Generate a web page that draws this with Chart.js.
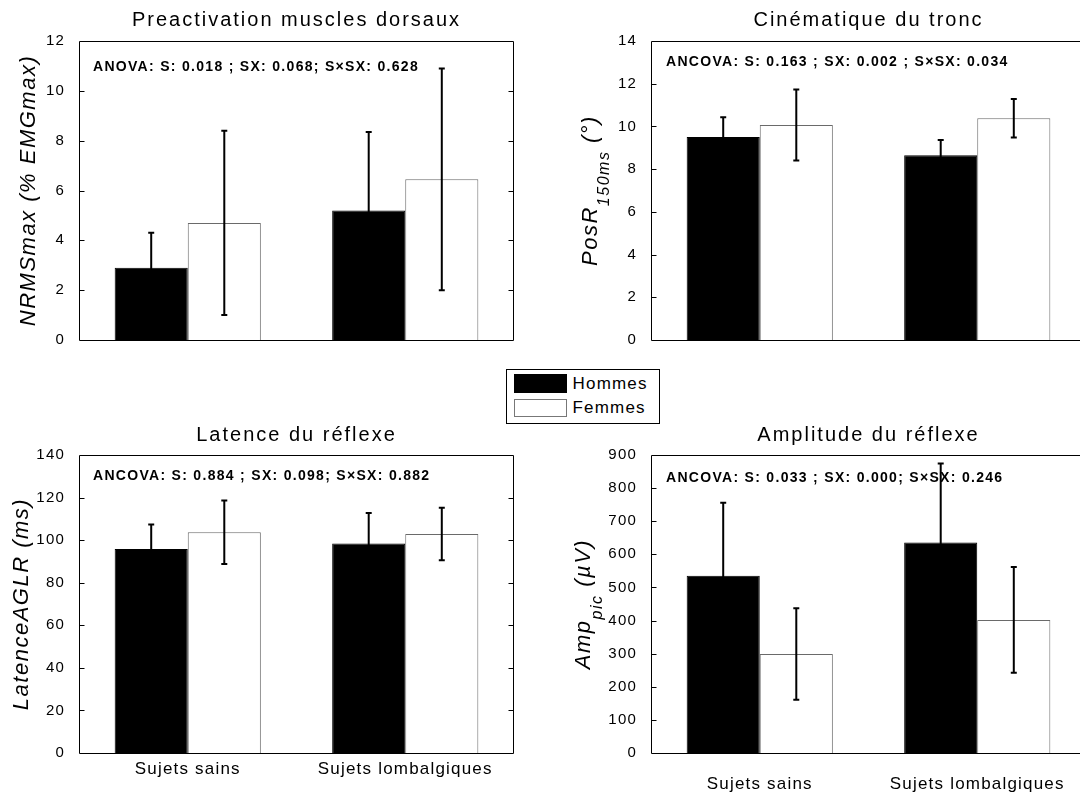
<!DOCTYPE html>
<html lang="fr">
<head>
  <meta charset="UTF-8">
  <title>Hommes / Femmes</title>
  <script src="https://cdn.jsdelivr.net/npm/chart.js"></script>
  <style>
    html, body {
      margin: 0;
      padding: 0;
      background: #fff;
    }
    body {
      width: 1080px;
      height: 794px;
      overflow: hidden;
      position: relative;
      font-family: 'Liberation Sans', Arial, sans-serif;
    }
    canvas {
      position: absolute;
    }
    .legend {
      position: absolute;
      left: 506px;
      top: 369px;
      width: 154px;
      height: 55px;
      box-sizing: border-box;
      border: 1.5px solid #000;
      background: #fff;
    }
    .legend .sw {
      position: absolute;
      left: 6.5px;
      width: 53px;
      box-sizing: border-box;
    }
    .legend .black { top: 3.5px; height: 19px; background: #000; }
    .legend .white { top: 28.5px; height: 18px; background: #fff; border: 1px solid #777; }
    .legend .txt {
      position: absolute;
      left: 65.5px;
      font-size: 17px;
      line-height: 20px;
      letter-spacing: 1.2px;
      color: #000;
    }
  </style>
</head>
<body>
  <canvas id="preact" width="540" height="360" style="left:0;top:0"></canvas>
  <canvas id="cinem" width="560" height="360" style="left:540px;top:0"></canvas>
  <canvas id="latence" width="540" height="380" style="left:0;top:414px"></canvas>
  <canvas id="amplitude" width="560" height="380" style="left:540px;top:414px"></canvas>

  <div class="legend">
    <span class="sw black"></span><span class="txt" style="top:3.5px">Hommes</span>
    <span class="sw white"></span><span class="txt" style="top:27.5px">Femmes</span>
  </div>

  <script>
    const FONT = "'Liberation Sans', Arial, sans-serif";

    const categories = ['Sujets sains', 'Sujets lombalgiques'];
    const seriesNames = ['Hommes', 'Femmes'];

    // Preactivation muscles dorsaux (NRMSmax, % EMGmax)
    const preactHommes = [2.9, 5.2];
    const preactHommesSd = [1.4, 3.15];
    const preactFemmes = [4.7, 6.45];
    const preactFemmesSd = [3.7, 4.45];

    // Cinematique du tronc (PosR 150ms, degres)
    const cinemHommes = [9.5, 8.65];
    const cinemHommesSd = [0.93, 0.72];
    const cinemFemmes = [10.07, 10.38];
    const cinemFemmesSd = [1.66, 0.9];

    // Latence du reflexe (ms)
    const latHommes = [95.8, 98.4];
    const latHommesSd = [11.6, 14.3];
    const latFemmes = [103.7, 102.9];
    const latFemmesSd = [14.9, 12.3];

    // Amplitude du reflexe (microvolts)
    const ampHommes = [535, 636];
    const ampHommesSd = [221, 238];
    const ampFemmes = [299, 402];
    const ampFemmesSd = [138, 160];

    // y axis ranges [max, step]
    const preactAxis = [12, 2];
    const cinemAxis = [14, 2];
    const latAxis = [140, 20];
    const ampAxis = [900, 100];

    const panels = [
      {
        canvas: 'preact', title: 'Preactivation muscles dorsaux',
        note: 'ANOVA: S: 0.018 ; SX: 0.068; S×SX: 0.628',
        yLabel: [['NRMSmax (% EMGmax)', false]],
        hommes: preactHommes, hommesSd: preactHommesSd, femmes: preactFemmes, femmesSd: preactFemmesSd,
        axis: preactAxis,
        axisW: 79, padRight: 26, axisH: 20, showX: false, xPad: 0,
        titleY: 20, noteDx: 14, noteDy: 26, yLabelX: 35
      },
      {
        canvas: 'cinem', title: 'Cinématique du tronc',
        note: 'ANCOVA: S: 0.163 ; SX: 0.002 ; S×SX: 0.034',
        yLabel: [['PosR', false], ['150ms', true], [' (°)', false]],
        hommes: cinemHommes, hommesSd: cinemHommesSd, femmes: cinemFemmes, femmesSd: cinemFemmesSd,
        axis: cinemAxis,
        axisW: 111, padRight: 14, axisH: 20, showX: false, xPad: 0,
        titleY: 20, noteDx: 15, noteDy: 21, yLabelX: 57
      },
      {
        canvas: 'latence', title: 'Latence du réflexe',
        note: 'ANCOVA: S: 0.884 ; SX: 0.098; S×SX: 0.882',
        yLabel: [['LatenceAGLR (ms)', false]],
        hommes: latHommes, hommesSd: latHommesSd, femmes: latFemmes, femmesSd: latFemmesSd,
        axis: latAxis,
        axisW: 79, padRight: 26, axisH: 41, showX: true, xPad: -2,
        titleY: 21, noteDx: 14, noteDy: 21, yLabelX: 28
      },
      {
        canvas: 'amplitude', title: 'Amplitude du réflexe',
        note: 'ANCOVA: S: 0.033 ; SX: 0.000; S×SX: 0.246',
        yLabel: [['Amp', false], ['pic', true], [' (µV)', false]],
        hommes: ampHommes, hommesSd: ampHommesSd, femmes: ampFemmes, femmesSd: ampFemmesSd,
        axis: ampAxis,
        axisW: 111, padRight: 14, axisH: 41, showX: true, xPad: 13,
        titleY: 21, noteDx: 15, noteDy: 23, yLabelX: 50
      }
    ];

    function drawYTitle(ctx, parts, x, cy) {
      const main = 'italic 22px ' + FONT;
      const sub = 'italic 16px ' + FONT;
      ctx.save();
      ctx.letterSpacing = '1.5px';
      let total = 0;
      parts.forEach(([text, isSub]) => {
        ctx.font = isSub ? sub : main;
        total += ctx.measureText(text).width;
      });
      ctx.translate(x, cy);
      ctx.rotate(-Math.PI / 2);
      ctx.fillStyle = '#000';
      ctx.textAlign = 'left';
      ctx.textBaseline = 'alphabetic';
      let pos = -total / 2;
      parts.forEach(([text, isSub]) => {
        ctx.font = isSub ? sub : main;
        ctx.fillText(text, pos, isSub ? 12 : 0);
        pos += ctx.measureText(text).width;
      });
      ctx.restore();
    }

    function decor(p) {
      return {
        id: 'decor',
        beforeDraw(chart) {
          chart.ctx.letterSpacing = '1.2px';
        },
        afterDatasetsDraw(chart) {
          const { ctx, chartArea: a, scales: { y } } = chart;
          ctx.save();

          // statistics line
          ctx.letterSpacing = '1.3px';
          ctx.font = 'bold 14px ' + FONT;
          ctx.fillStyle = '#000';
          ctx.textAlign = 'left';
          ctx.textBaseline = 'middle';
          ctx.fillText(p.note, a.left + p.noteDx, a.top + p.noteDy);

          // error bars
          ctx.strokeStyle = '#000';
          ctx.lineWidth = 2;
          chart.data.datasets.forEach((ds, di) => {
            chart.getDatasetMeta(di).data.forEach((bar, i) => {
              const top = y.getPixelForValue(ds.data[i] + ds.errors[i]);
              const bot = y.getPixelForValue(ds.data[i] - ds.errors[i]);
              ctx.beginPath();
              ctx.moveTo(bar.x, top);
              ctx.lineTo(bar.x, bot);
              ctx.moveTo(bar.x - 3, top);
              ctx.lineTo(bar.x + 3, top);
              ctx.moveTo(bar.x - 3, bot);
              ctx.lineTo(bar.x + 3, bot);
              ctx.stroke();
            });
          });

          // box and inward ticks
          ctx.lineWidth = 1;
          const l = Math.round(a.left) + 0.5;
          const r = Math.round(a.right) - 0.5;
          const t = Math.round(a.top) + 0.5;
          const b = Math.round(a.bottom) + 0.5;
          ctx.beginPath();
          ctx.moveTo(l, t); ctx.lineTo(r, t); ctx.lineTo(r, b); ctx.lineTo(l, b); ctx.closePath();
          y.ticks.forEach(tk => {
            if (tk.value <= y.min || tk.value >= y.max) return;
            const py = Math.round(y.getPixelForValue(tk.value)) + 0.5;
            ctx.moveTo(l, py); ctx.lineTo(l + 5, py);
            ctx.moveTo(r - 5, py); ctx.lineTo(r, py);
          });
          ctx.stroke();
          ctx.restore();
        },
        afterDraw(chart) {
          const { ctx, chartArea: a } = chart;
          ctx.save();
          ctx.letterSpacing = '2px';
          ctx.font = '20px ' + FONT;
          ctx.fillStyle = '#000';
          ctx.textAlign = 'center';
          ctx.textBaseline = 'middle';
          ctx.fillText(p.title, (a.left + a.right) / 2, p.titleY);
          ctx.restore();
          drawYTitle(ctx, p.yLabel, p.yLabelX, (a.top + a.bottom) / 2);
        }
      };
    }

    function makeChart(p) {
      new Chart(document.getElementById(p.canvas), {
        type: 'bar',
        data: {
          labels: categories,
          datasets: [
            {
              label: seriesNames[0], data: p.hommes, errors: p.hommesSd,
              backgroundColor: '#000', borderColor: '#000', borderWidth: 1
            },
            {
              label: seriesNames[1], data: p.femmes, errors: p.femmesSd,
              backgroundColor: '#fff', borderColor: '#6a6a6a', borderWidth: 1
            }
          ]
        },
        options: {
          responsive: false,
          animation: false,
          events: [],
          layout: { padding: { top: 41, right: p.padRight, left: 0, bottom: 0 } },
          datasets: { bar: { categoryPercentage: 0.672, barPercentage: 1 } },
          plugins: {
            legend: { display: false },
            tooltip: { enabled: false },
            title: { display: false }
          },
          scales: {
            x: {
              grid: { display: false },
              border: { display: false },
              ticks: {
                display: p.showX, padding: p.xPad, color: '#000',
                font: { size: 17, family: FONT }, maxRotation: 0, autoSkip: false
              },
              afterFit: s => { s.height = p.axisH; }
            },
            y: {
              min: 0,
              max: p.axis[0],
              grid: { display: false },
              border: { display: false },
              ticks: { stepSize: p.axis[1], padding: 6, color: '#000', font: { size: 15, family: FONT } },
              afterFit: s => { s.width = p.axisW; }
            }
          }
        },
        plugins: [decor(p)]
      });
    }

    panels.forEach(makeChart);
  </script>
</body>
</html>
